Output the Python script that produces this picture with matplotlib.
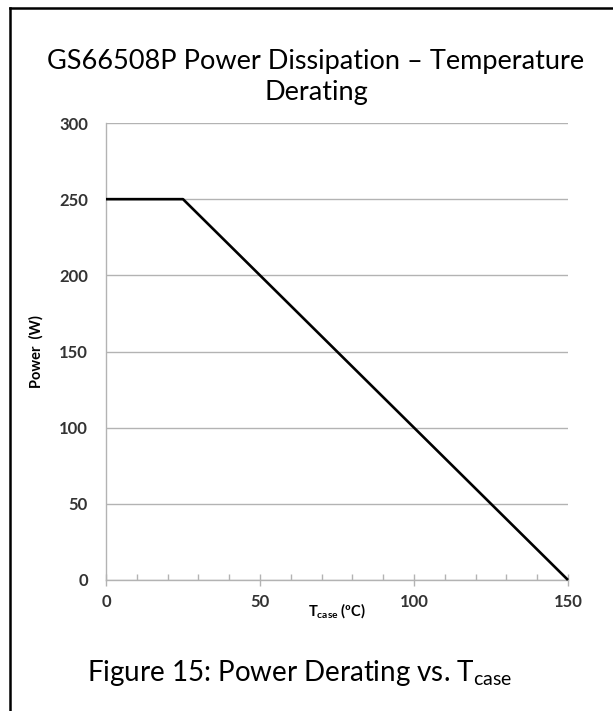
#!/usr/bin/env python3
"""GS66508P power dissipation vs. case temperature derating curve."""

import matplotlib
matplotlib.use("Agg")
import matplotlib.pyplot as plt
from matplotlib.lines import Line2D
from matplotlib.ticker import MultipleLocator

# derating curve (case temperature in degC, power in W)
t_case = [0, 25, 150]
power = [250, 250, 0]

x_ticks = [0, 50, 100, 150]
y_ticks = [0, 50, 100, 150, 200, 250, 300]

TITLE = "GS66508P Power Dissipation \u2013 Temperature\nDerating"
CAPTION = "Figure 15: Power Derating vs. T$_{\\mathregular{case}}$"
XLABEL = "T$_{\\mathregular{case}}$ (\u00baC)"
YLABEL = "Power  (W)"

plt.rcParams["font.family"] = ["Lato", "DejaVu Sans"]
plt.rcParams["mathtext.default"] = "regular"

W, H = 613, 711
fig = plt.figure(figsize=(W / 100, H / 100), dpi=100)
ax = fig.add_axes([106 / W, 1 - 580 / H, (568 - 106) / W, (580 - 123) / H])

grid_col = "#b3b3b3"
ax.set_axisbelow(True)
ax.yaxis.grid(True, color=grid_col, linewidth=1.0)
ax.plot(t_case, power, color="black", linewidth=1.9, solid_capstyle="butt",
        zorder=3, clip_on=False)

ax.set_xlim(0, 150)
ax.set_ylim(0, 300)
ax.set_xticks(x_ticks)
ax.set_yticks(y_ticks)
ax.xaxis.set_minor_locator(MultipleLocator(10))

for side in ("top", "right"):
    ax.spines[side].set_visible(False)
for side in ("left", "bottom"):
    ax.spines[side].set_color(grid_col)
    ax.spines[side].set_linewidth(1.0)

ax.tick_params(axis="x", which="major", direction="inout", length=8,
               color=grid_col, width=1.0, pad=6)
ax.tick_params(axis="x", which="minor", direction="in", length=4,
               color=grid_col, width=1.0)
ax.tick_params(axis="y", which="major", length=0, pad=13)
ax.tick_params(labelsize=12, labelcolor="#333333")
for lab in ax.get_xticklabels() + ax.get_yticklabels():
    lab.set_fontweight("bold")

ax.set_xlabel(XLABEL, fontsize=10.5, fontweight="bold", labelpad=-6)
ax.set_ylabel(YLABEL, fontsize=10.5, fontweight="bold", labelpad=11)

fig.text(316 / W, 1 - 77 / H, TITLE, ha="center", va="center", fontsize=19.5,
         linespacing=1.3)
fig.text(300 / W, 1 - 673 / H, CAPTION, ha="center", va="center", fontsize=20)

# partial page frame (left and top edges only)
fig.add_artist(Line2D([10 / W, 10 / W], [0, 1 - 8 / H], transform=fig.transFigure,
                      color="black", linewidth=1.8))
fig.add_artist(Line2D([10 / W, 1], [1 - 8 / H, 1 - 8 / H], transform=fig.transFigure,
                      color="black", linewidth=1.8))

fig.savefig("out.png", dpi=100)
